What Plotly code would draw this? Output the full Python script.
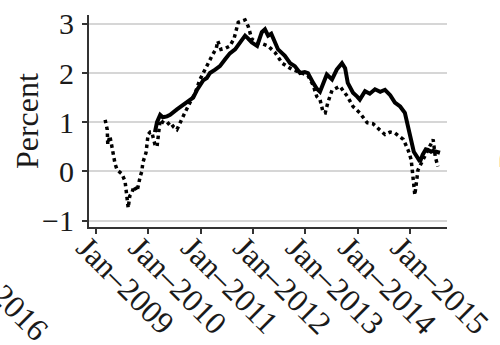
import plotly.graph_objects as go

# Decimal-year positions and percent values
solid_x = [2010.13, 2010.17, 2010.23, 2010.28, 2010.36, 2010.42, 2010.55, 2010.67, 2010.74, 2010.80,
           2010.86, 2010.93, 2010.99, 2011.05, 2011.12, 2011.18, 2011.28, 2011.37, 2011.47, 2011.56,
           2011.66, 2011.75, 2011.85, 2011.91, 2011.98, 2012.08, 2012.17, 2012.23, 2012.29, 2012.35,
           2012.40, 2012.48, 2012.61, 2012.71, 2012.80, 2012.90, 2012.99, 2013.05, 2013.15, 2013.22,
           2013.28, 2013.34, 2013.41, 2013.51, 2013.60, 2013.70, 2013.76, 2013.81, 2013.91, 2013.99,
           2014.04, 2014.14, 2014.23, 2014.33, 2014.43, 2014.52, 2014.62, 2014.71, 2014.81, 2014.90,
           2014.96, 2015.02, 2015.07, 2015.13, 2015.19, 2015.24, 2015.30, 2015.34, 2015.40, 2015.44,
           2015.49, 2015.57]
solid_y = [0.80, 1.00, 1.15, 1.10, 1.12, 1.15, 1.26, 1.35, 1.40, 1.46,
           1.50, 1.65, 1.75, 1.85, 1.90, 2.00, 2.07, 2.14, 2.28, 2.40,
           2.48, 2.62, 2.76, 2.70, 2.62, 2.55, 2.83, 2.89, 2.76, 2.80,
           2.69, 2.48, 2.35, 2.20, 2.14, 2.00, 2.02, 2.00, 1.80, 1.68,
           1.62, 1.78, 1.97, 1.87, 2.07, 2.20, 2.10, 1.80, 1.60, 1.52,
           1.46, 1.63, 1.58, 1.67, 1.62, 1.66, 1.55, 1.40, 1.32, 1.19,
           0.92, 0.58, 0.40, 0.30, 0.20, 0.34, 0.45, 0.44, 0.40, 0.42,
           0.40, 0.38]

dotted_x = [2009.18, 2009.22, 2009.23, 2009.27, 2009.31, 2009.33, 2009.37, 2009.41, 2009.46, 2009.50,
            2009.56, 2009.60, 2009.62, 2009.65, 2009.69, 2009.73, 2009.79, 2009.85, 2009.88, 2009.90,
            2009.96, 2010.00, 2010.04, 2010.07, 2010.13, 2010.17, 2010.23, 2010.28, 2010.36, 2010.42,
            2010.49, 2010.55, 2010.61, 2010.70, 2010.80, 2010.90, 2010.99, 2011.07, 2011.14, 2011.22,
            2011.30, 2011.33, 2011.39, 2011.47, 2011.56, 2011.64, 2011.72, 2011.79, 2011.85, 2011.91,
            2011.98, 2012.08, 2012.17, 2012.29, 2012.42, 2012.56, 2012.75, 2012.94, 2013.05, 2013.15,
            2013.22, 2013.28, 2013.34, 2013.38, 2013.43, 2013.51, 2013.66, 2013.80, 2013.91, 2014.04,
            2014.18, 2014.29, 2014.43, 2014.52, 2014.62, 2014.71, 2014.87, 2014.96, 2015.02, 2015.06,
            2015.09, 2015.15, 2015.23, 2015.34, 2015.44, 2015.48, 2015.53]
dotted_y = [1.05, 0.85, 0.55, 0.72, 0.50, 0.38, 0.15, 0.03, -0.02, -0.05,
            -0.20, -0.55, -0.74, -0.50, -0.44, -0.30, -0.40, -0.10, 0.00, 0.18,
            0.38, 0.75, 0.80, 0.80, 0.55, 0.50, 1.05, 1.00, 0.95, 1.00,
            0.90, 0.85, 1.00, 1.19, 1.40, 1.60, 1.87, 2.05, 2.20, 2.35,
            2.50, 2.65, 2.48, 2.50, 2.55, 2.70, 3.03, 3.05, 3.08, 2.95,
            2.69, 2.62, 2.60, 2.55, 2.42, 2.20, 2.07, 2.00, 1.95, 1.75,
            1.52, 1.46, 1.20, 1.19, 1.40, 1.65, 1.73, 1.53, 1.32, 1.19,
            0.99, 0.97, 0.85, 0.75, 0.80, 0.78, 0.65, 0.44, 0.24, -0.20,
            -0.48, 0.03, 0.20, 0.44, 0.65, 0.30, 0.10]

x_tickvals = [2009, 2010, 2011, 2012, 2013, 2014, 2015]
x_ticktext = ["Jan\u20132009", "Jan\u20132010", "Jan\u20132011", "Jan\u20132012",
              "Jan\u20132013", "Jan\u20132014", "Jan\u20132015"]
y_tickvals = [-1, 0, 1, 2, 3]
y_ticktext = ["\u22121", "0", "1", "2", "3"]

FONT = "Liberation Serif"
INK = "#1a1a1a"

fig = go.Figure()
fig.add_trace(go.Scatter(x=dotted_x, y=dotted_y, mode="lines",
                         line=dict(color="black", width=3.5, dash="dot"),
                         showlegend=False))
fig.add_trace(go.Scatter(x=solid_x, y=solid_y, mode="lines",
                         line=dict(color="black", width=4),
                         showlegend=False))

fig.update_layout(
    width=500, height=345,
    margin=dict(l=89, r=53, t=15, b=118, autoexpand=False),
    paper_bgcolor="white", plot_bgcolor="white",
    font=dict(family=FONT, size=29, color=INK),
    xaxis=dict(range=[2008.872, 2015.704], tickvals=x_tickvals, ticktext=x_ticktext,
               tickangle=45, showgrid=False, zeroline=False, automargin=False,
               showline=True, linecolor="#333333", linewidth=2,
               ticks="outside", ticklen=5, tickwidth=2, tickcolor="#333333",
               ticklabelstandoff=-18, ticklabelshift=-10, ticklabeloverflow="allow",
               tickfont=dict(family=FONT, size=32, color=INK)),
    yaxis=dict(range=[-1.13, 3.18], tickvals=y_tickvals, ticktext=y_ticktext,
               showgrid=True, gridcolor="#d6d6d6", gridwidth=2, zeroline=False,
               automargin=False,
               showline=True, linecolor="#333333", linewidth=2,
               ticks="outside", ticklen=5, tickwidth=2, tickcolor="#333333",
               ticklabelstandoff=2,
               tickfont=dict(family=FONT, size=30, color=INK)),
    annotations=[
        dict(text="Percent", xref="paper", yref="paper", x=-0.173, y=0.5,
             xanchor="center", yanchor="middle", textangle=-90, showarrow=False,
             font=dict(family=FONT, size=32, color=INK)),
        dict(text="Jan\u20132016", xref="paper", yref="paper", x=-0.249, y=-0.307,
             xanchor="center", yanchor="middle", textangle=45, showarrow=False,
             font=dict(family=FONT, size=32, color=INK)),
        dict(text="Percent", xref="paper", yref="paper", x=1.176, y=0.505,
             xanchor="center", yanchor="middle", textangle=-90, showarrow=False,
             font=dict(family=FONT, size=32, color=INK)),
    ],
)

fig.write_html("out.html")
